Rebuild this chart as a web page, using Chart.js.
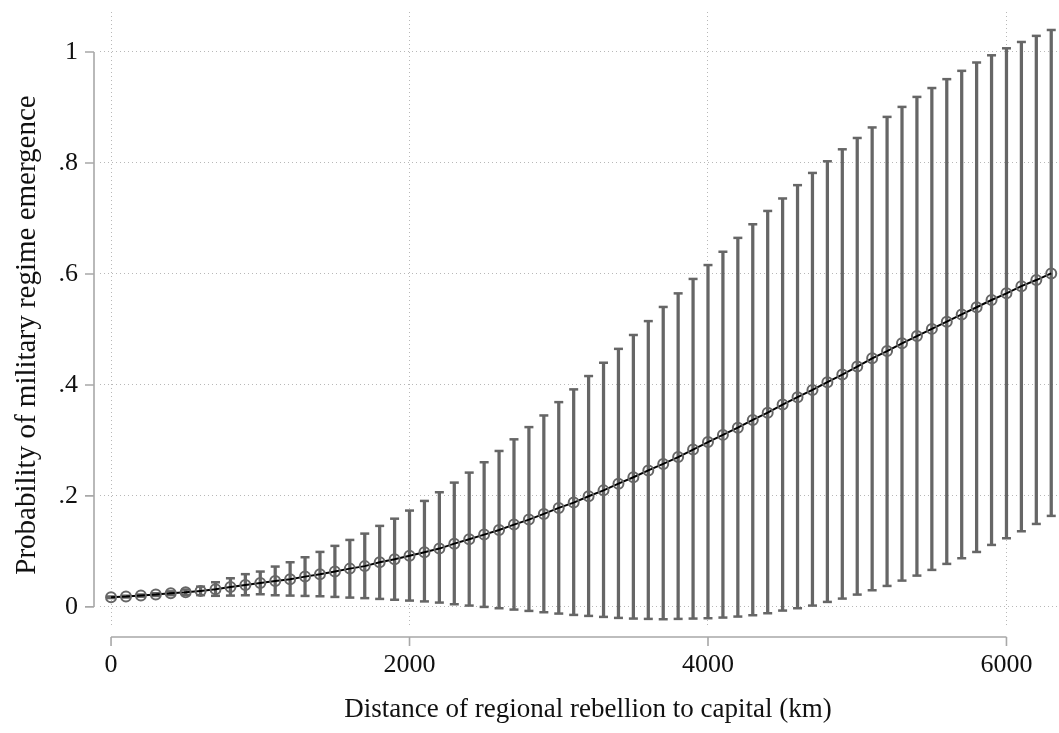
<!DOCTYPE html>
<html>
<head>
<meta charset="utf-8">
<script src="https://cdn.jsdelivr.net/npm/chart.js@4.4.0/dist/chart.umd.min.js"></script>
<style>
  body { margin: 0; background: #fff; }
</style>
</head>
<body>
<canvas id="chart" width="1059" height="733"></canvas>
<script>
// distance (km)
const distance = [0, 100, 200, 300, 400, 500, 600, 700, 800, 900,
    1000, 1100, 1200, 1300, 1400, 1500, 1600, 1700, 1800, 1900,
    2000, 2100, 2200, 2300, 2400, 2500, 2600, 2700, 2800, 2900,
    3000, 3100, 3200, 3300, 3400, 3500, 3600, 3700, 3800, 3900,
    4000, 4100, 4200, 4300, 4400, 4500, 4600, 4700, 4800, 4900,
    5000, 5100, 5200, 5300, 5400, 5500, 5600, 5700, 5800, 5900,
    6000, 6100, 6200, 6300];

// predicted probability
const estimate = [0.0174, 0.0186, 0.0204, 0.0222, 0.0246, 0.0264, 0.0288, 0.0318, 0.0360, 0.0396,
    0.0430, 0.0468, 0.0498, 0.0546, 0.0588, 0.0637, 0.0690, 0.0735, 0.0805, 0.0860,
    0.0922, 0.0985, 0.1051, 0.1140, 0.1220, 0.1303, 0.1387, 0.1483, 0.1573, 0.1676,
    0.1784, 0.1880, 0.1994, 0.2100, 0.2220, 0.2336, 0.2460, 0.2577, 0.2700, 0.2835,
    0.2970, 0.3100, 0.3230, 0.3370, 0.3500, 0.3646, 0.3780, 0.3910, 0.4050, 0.4186,
    0.4330, 0.4480, 0.4610, 0.4750, 0.4880, 0.5010, 0.5140, 0.5270, 0.5400, 0.5530,
    0.5650, 0.5780, 0.5890, 0.6010];

// 95% CI
const lower = [0.0160, 0.0170, 0.0185, 0.0198, 0.0212, 0.0216, 0.0212, 0.0200, 0.0204, 0.0210,
    0.0228, 0.0210, 0.0204, 0.0198, 0.0192, 0.0180, 0.0168, 0.0158, 0.0144, 0.0129,
    0.0114, 0.0099, 0.0078, 0.0048, 0.0024, 0.0000, -0.0024, -0.0048, -0.0072, -0.0096,
    -0.0120, -0.0144, -0.0162, -0.0180, -0.0198, -0.0210, -0.0216, -0.0222, -0.0216, -0.0210,
    -0.0204, -0.0192, -0.0174, -0.0150, -0.0114, -0.0066, -0.0024, 0.0024, 0.0090, 0.0150,
    0.0222, 0.0300, 0.0378, 0.0474, 0.0564, 0.0667, 0.0775, 0.0877, 0.0990, 0.1117,
    0.1237, 0.1363, 0.1495, 0.1640];

const upper = [0.0188, 0.0202, 0.0223, 0.0246, 0.0280, 0.0312, 0.0366, 0.0444, 0.0516, 0.0590,
    0.0637, 0.0727, 0.0805, 0.0895, 0.0991, 0.1100, 0.1207, 0.1321, 0.1460, 0.1590,
    0.1736, 0.1910, 0.2066, 0.2240, 0.2420, 0.2607, 0.2810, 0.3020, 0.3240, 0.3450,
    0.3690, 0.3920, 0.4160, 0.4400, 0.4650, 0.4900, 0.5150, 0.5405, 0.5650, 0.5910,
    0.6160, 0.6400, 0.6650, 0.6895, 0.7135, 0.7360, 0.7600, 0.7820, 0.8030, 0.8246,
    0.8450, 0.8640, 0.8830, 0.9010, 0.9190, 0.9350, 0.9510, 0.9660, 0.9810, 0.9940,
    1.0066, 1.0180, 1.0290, 1.0396];

const xTicks = [0, 2000, 4000, 6000];
const yTicks = [0, 0.2, 0.4, 0.6, 0.8, 1];
const yTickLabels = ['0', '.2', '.4', '.6', '.8', '1'];

const xTitle = 'Distance of regional rebellion to capital (km)';
const yTitle = 'Probability of military regime emergence';

const FONT = '"Liberation Serif", "Times New Roman", serif';
const GRAY = '#666666';
const AXIS = '#a8a8a8';

// stata-style axes: detached lines covering only the tick range
const stataAxes = {
    id: 'stataAxes',
    afterDraw(chart) {
        const ctx = chart.ctx;
        const xs = chart.scales.x, ys = chart.scales.y;
        ctx.save();
        ctx.strokeStyle = AXIS;
        ctx.lineWidth = 1.6;
        const axX = 94, axY = 637;
        ctx.beginPath();
        ctx.moveTo(axX, ys.getPixelForValue(yTicks[0]));
        ctx.lineTo(axX, ys.getPixelForValue(yTicks[yTicks.length - 1]));
        yTicks.forEach(v => {
            const p = ys.getPixelForValue(v);
            ctx.moveTo(axX - 9, p);
            ctx.lineTo(axX, p);
        });
        ctx.moveTo(xs.getPixelForValue(xTicks[0]), axY);
        ctx.lineTo(xs.getPixelForValue(xTicks[xTicks.length - 1]), axY);
        xTicks.forEach(v => {
            const p = xs.getPixelForValue(v);
            ctx.moveTo(p, axY);
            ctx.lineTo(p, axY + 9);
        });
        ctx.stroke();

        ctx.fillStyle = '#111';
        ctx.textAlign = 'center';
        ctx.textBaseline = 'middle';
        ctx.font = '27px ' + FONT;
        ctx.fillText(xTitle, 588, 710);
        ctx.font = '29px ' + FONT;
        ctx.translate(27, 335);
        ctx.rotate(-Math.PI / 2);
        ctx.fillText(yTitle, 0, 0);
        ctx.restore();
    }
};

const ctx = document.getElementById('chart');
const chart = new Chart(ctx, {
    type: 'scatter',
    data: {
        datasets: [{
                type: 'line',
                data: distance.map((d, i) => ({x: d, y: estimate[i]})),
                borderColor: '#000',
                borderWidth: 2,
                pointRadius: 5,
                pointBorderWidth: 2,
                pointBorderColor: GRAY,
                pointBackgroundColor: 'rgba(0,0,0,0)',
                tension: 0,
                order: 0
            },
            {
                data: distance.map((d, i) => ({x: d, y: upper[i]})),
                pointStyle: 'line',
                pointRadius: 4.5,
                borderWidth: 2.5,
                borderColor: GRAY,
                order: 1
            },
            {
                data: distance.map((d, i) => ({x: d, y: lower[i]})),
                pointStyle: 'line',
                pointRadius: 4.5,
                borderWidth: 2.5,
                borderColor: GRAY,
                order: 1
            },
            {
                type: 'bar',
                data: distance.map((d, i) => ({x: d, y: [lower[i], upper[i]]})),
                backgroundColor: GRAY,
                borderWidth: 0,
                barThickness: 2.6,
                grouped: false,
                order: 2
            },
        ]
    },
    options: {
        responsive: false,
        animation: false,
        devicePixelRatio: 1,
        layout: { autoPadding: false, padding: { top: 12, left: 0, right: 0, bottom: 0 } },
        plugins: {
            legend: { display: false },
            tooltip: { enabled: false }
        },
        scales: {
            x: {
                type: 'linear',
                min: -74,
                max: 6352,
                offset: false,
                afterFit: s => { s.height = 105; s.paddingLeft = 0; s.paddingRight = 0; },
                afterBuildTicks: s => { s.ticks = xTicks.map(v => ({value: v})); },
                grid: { color: 'rgba(0,0,0,0.28)', lineWidth: 1, drawTicks: false, offset: false },
                border: { display: false, dash: [1, 3] },
                ticks: {
                    padding: 22,
                    color: '#111',
                    font: { family: FONT, size: 26 },
                    maxRotation: 0,
                    callback: v => String(v)
                }
            },
            y: {
                min: -0.038,
                max: 1.072,
                afterFit: s => { s.width = 100; s.paddingTop = 0; s.paddingBottom = 0; },
                afterBuildTicks: s => { s.ticks = yTicks.map(v => ({value: v})); },
                grid: { color: 'rgba(0,0,0,0.28)', lineWidth: 1, drawTicks: false },
                border: { display: false, dash: [1, 3] },
                ticks: {
                    padding: 22,
                    color: '#111',
                    font: { family: FONT, size: 26 },
                    callback: v => yTickLabels[yTicks.indexOf(v)]
                }
            }
        }
    },
    plugins: [stataAxes]
});
</script>
</body>
</html>
